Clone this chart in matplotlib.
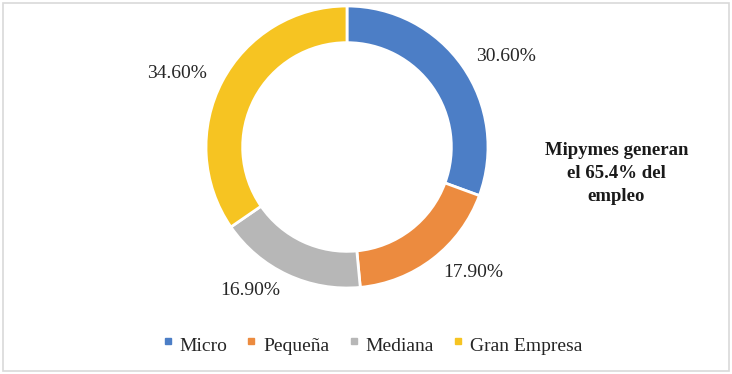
import matplotlib
matplotlib.use("Agg")
import matplotlib.pyplot as plt
import matplotlib.patches as patches
from matplotlib.lines import Line2D

categories = ["Micro", "Pequeña", "Mediana", "Gran Empresa"]
shares = [30.6, 17.9, 16.9, 34.6]
colors = ["#4C7EC6", "#EC8B3F", "#B7B7B7", "#F6C422"]
note = "Mipymes generan\nel 65.4% del\nempleo"

plt.rcParams["font.family"] = ["Liberation Serif", "DejaVu Serif"]

fig = plt.figure(figsize=(7.32, 3.74), dpi=100)
ax = fig.add_axes([0, 0, 1, 1])

# donut: 1 unit = 141 px, centre at (347, 147) px
ax.pie(
    shares,
    labels=["%.2f%%" % s for s in shares],
    colors=colors,
    startangle=90,
    counterclock=False,
    labeldistance=1.12,
    radius=1,
    wedgeprops=dict(width=0.26, edgecolor="white", linewidth=2),
    textprops=dict(fontsize=14, color="#262626"),
)
ax.set_xlim(-347 / 141, (732 - 347) / 141)
ax.set_ylim(-(374 - 147) / 141, 147 / 141)
ax.set_aspect("auto")
ax.axis("off")

fig.text(0.842, 0.537, note, ha="center", va="center", fontsize=13.5,
         fontweight="bold", color="#1a1a1a", linespacing=1.45)

handles = [Line2D([], [], marker="s", linestyle="none", markersize=5,
                  markerfacecolor=c, markeredgecolor=c) for c in colors]
leg = fig.legend(handles, categories, loc="center", bbox_to_anchor=(0.508, 0.075),
                 ncol=4, frameon=False, fontsize=14, handlelength=0.6,
                 handletextpad=0.3, columnspacing=0.95, labelcolor="#262626")
# markers sit a little high, like the original
for h in leg.legend_handles:
    h.set_transform(h.get_transform() + matplotlib.transforms.Affine2D().translate(0, 3))

fig.patches.append(patches.Rectangle((0.004, 0.008), 0.992, 0.984,
                                     transform=fig.transFigure, fill=False,
                                     edgecolor="#D9D9D9", linewidth=1.2))

fig.savefig("out.png", dpi=100)
